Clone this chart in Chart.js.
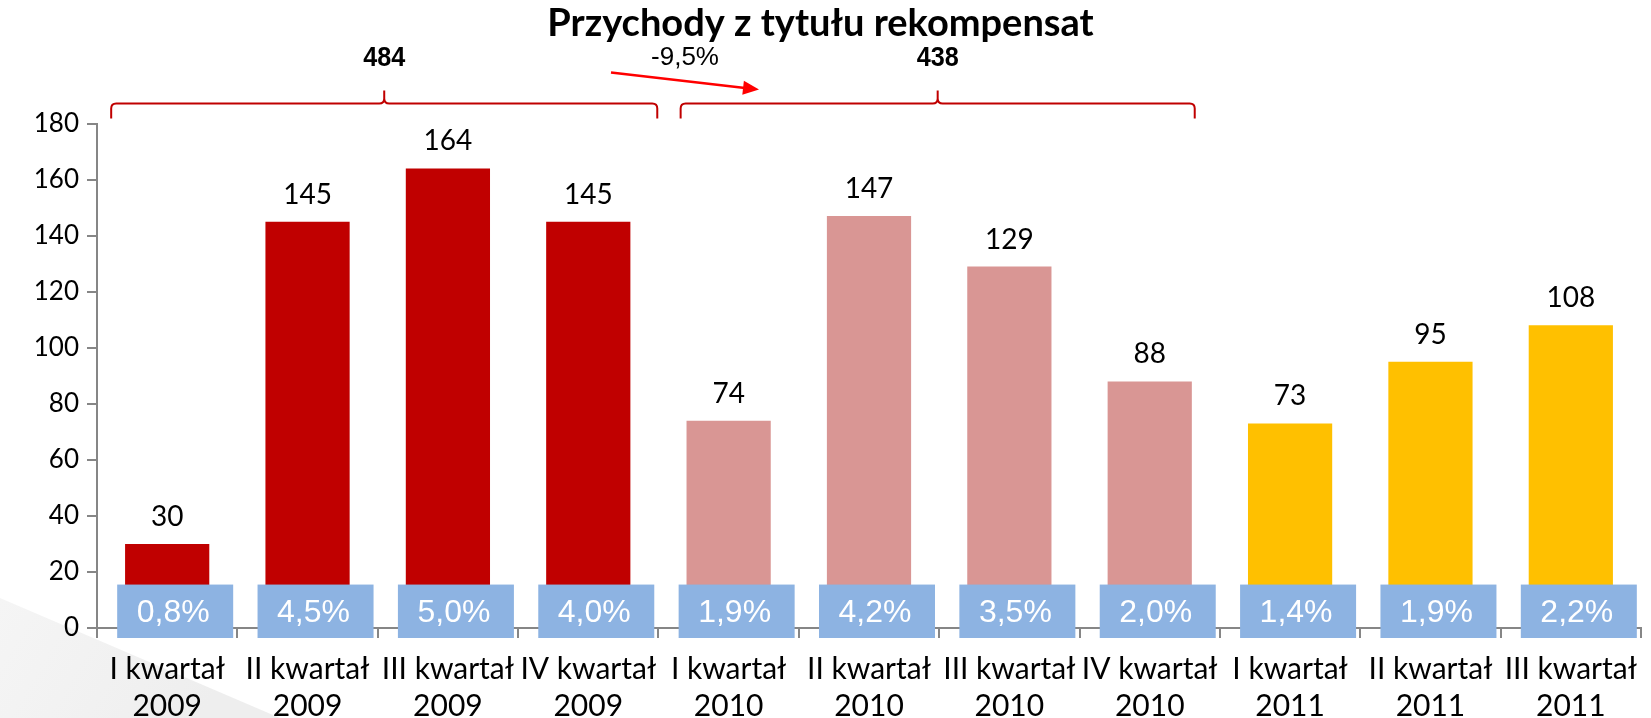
<!DOCTYPE html>
<html>
<head>
<meta charset="utf-8">
<script src="https://cdn.jsdelivr.net/npm/chart.js@4.4.1/dist/chart.umd.min.js"></script>
<style>
  html, body { margin: 0; padding: 0; background: #fff; }
  #wrap { width: 1651px; height: 718px; }
</style>
</head>
<body>
<div id="wrap"><canvas id="revenueChart" width="1651" height="718"></canvas></div>
<script>
// chart data
const quarters = ['I kwartał', 'II kwartał', 'III kwartał', 'IV kwartał',
  'I kwartał', 'II kwartał', 'III kwartał', 'IV kwartał',
  'I kwartał', 'II kwartał', 'III kwartał'];
const years = ['2009', '2009', '2009', '2009', '2010', '2010', '2010', '2010', '2011', '2011', '2011'];
const values = [30, 145, 164, 145, 74, 147, 129, 88, 73, 95, 108];
const shares = ['0,8%', '4,5%', '5,0%', '4,0%', '1,9%', '4,2%', '3,5%', '2,0%', '1,4%', '1,9%', '2,2%'];
const yTicks = [0, 20, 40, 60, 80, 100, 120, 140, 160, 180];

const yearColors = { '2009': '#C00000', '2010': '#D99694', '2011': '#FFC000' };

// groups summed under the brackets
const groups = [
  { from: 0, to: 3, padL: 56, padR: 69 },
  { from: 4, to: 7, padL: 48, padR: 45 }
];
groups.forEach(g => {
  g.total = values.slice(g.from, g.to + 1).reduce((a, b) => a + b, 0);
});
const change = (groups[1].total / groups[0].total - 1) * 100;
const changeLabel = change.toFixed(1).replace('.', ',') + '%';

const calibri = 'Lato, "Noto Sans", sans-serif';
const arial = '"Liberation Sans", Arial, sans-serif';

// light grey wedge in the lower left corner
const backdrop = {
  id: 'backdrop',
  beforeDraw(chart) {
    const c = chart.ctx;
    c.save();
    c.fillStyle = '#fff';
    c.fillRect(0, 0, chart.width, chart.height);
    const g = c.createLinearGradient(0, 600, 200, 718);
    g.addColorStop(0, '#f5f5f5');
    g.addColorStop(1, '#eeeeee');
    c.fillStyle = g;
    c.beginPath();
    c.moveTo(0, 598);
    c.lineTo(280, 718);
    c.lineTo(0, 718);
    c.closePath();
    c.fill();
    c.restore();
  }
};

// value labels above the bars and the blue share boxes
const barLabels = {
  id: 'barLabels',
  afterDatasetsDraw(chart) {
    const c = chart.ctx;
    const y = chart.scales.y;
    const zero = y.getPixelForValue(0);
    const boxTop = y.getPixelForValue(15.5);
    const bars = chart.getDatasetMeta(0).data;
    c.save();
    bars.forEach((bar, i) => {
      c.fillStyle = '#000';
      c.font = '28px ' + calibri;
      c.textAlign = 'center';
      c.textBaseline = 'middle';
      c.fillText(String(values[i]), bar.x, bar.y - 27);

      c.fillStyle = '#8DB3E2';
      c.fillRect(bar.x - 50, boxTop, 116, zero + 10 - boxTop);

      c.fillStyle = '#fff';
      c.font = '32px ' + arial;
      c.fillText(shares[i], bar.x + 6, (boxTop + zero + 10) / 2 + 2);
    });
    c.restore();
  }
};

// brackets, totals and the change arrow above the plot
const brackets = {
  id: 'brackets',
  afterDraw(chart) {
    const c = chart.ctx;
    const x = chart.scales.x;
    const top = chart.chartArea.top;
    const lineY = top - 20;
    c.save();
    c.strokeStyle = '#C00000';
    c.lineWidth = 2;
    groups.forEach(g => {
      const x0 = x.getPixelForValue(g.from) - g.padL;
      const x1 = x.getPixelForValue(g.to) + g.padR;
      const mid = (x0 + x1) / 2;
      const r = 5;
      c.beginPath();
      c.moveTo(x0, lineY + 15);
      c.lineTo(x0, lineY + r);
      c.quadraticCurveTo(x0, lineY, x0 + r, lineY);
      c.lineTo(mid - r, lineY);
      c.quadraticCurveTo(mid, lineY, mid, lineY - r);
      c.lineTo(mid, lineY - 13);
      c.moveTo(mid, lineY - r);
      c.quadraticCurveTo(mid, lineY, mid + r, lineY);
      c.lineTo(x1 - r, lineY);
      c.quadraticCurveTo(x1, lineY, x1, lineY + r);
      c.lineTo(x1, lineY + 15);
      c.stroke();

      c.fillStyle = '#000';
      c.font = 'bold 28px ' + arial;
      c.textAlign = 'center';
      c.textBaseline = 'middle';
      c.save();
      c.translate(mid, lineY - 45);
      c.scale(0.9, 1);
      c.fillText(String(g.total), 0, 0);
      c.restore();
    });

    // arrow between the two brackets
    const ax0 = 611, ay0 = top - 51, ax1 = 759, ay1 = top - 34;
    const ang = Math.atan2(ay1 - ay0, ax1 - ax0);
    c.strokeStyle = '#FF0000';
    c.fillStyle = '#FF0000';
    c.lineWidth = 2.5;
    c.beginPath();
    c.moveTo(ax0, ay0);
    c.lineTo(ax1 - 14 * Math.cos(ang), ay1 - 14 * Math.sin(ang));
    c.stroke();
    c.beginPath();
    c.moveTo(ax1, ay1);
    c.lineTo(ax1 - 16 * Math.cos(ang) + 7 * Math.sin(ang), ay1 - 16 * Math.sin(ang) - 7 * Math.cos(ang));
    c.lineTo(ax1 - 16 * Math.cos(ang) - 7 * Math.sin(ang), ay1 - 16 * Math.sin(ang) + 7 * Math.cos(ang));
    c.closePath();
    c.fill();

    c.fillStyle = '#000';
    c.font = '26px ' + arial;
    c.textAlign = 'center';
    c.textBaseline = 'middle';
    c.fillText(changeLabel, (ax0 + ax1) / 2, top - 66);
    c.restore();
  }
};

const ctx = document.getElementById('revenueChart').getContext('2d');
const revenueChart = new Chart(ctx, {
  type: 'bar',
  data: {
    labels: quarters.map((q, i) => [q, years[i]]),
    datasets: [{
      data: values,
      backgroundColor: years.map(y => yearColors[y]),
      borderWidth: 0,
      barPercentage: 0.6,
      categoryPercentage: 1.0
    }]
  },
  options: {
    responsive: false,
    devicePixelRatio: 1,
    animation: false,
    layout: { padding: { top: 0, right: 10, left: 0, bottom: 0 } },
    plugins: {
      legend: { display: false },
      tooltip: { enabled: false },
      title: {
        display: true,
        text: 'Przychody z tytułu rekompensat',
        color: '#000',
        font: { family: calibri, size: 38, weight: 'bold', lineHeight: 1.2 },
        padding: { top: 1, bottom: 77 }
      }
    },
    scales: {
      x: {
        grid: {
          display: true,
          drawOnChartArea: false,
          drawTicks: true,
          tickLength: 10,
          color: '#868686',
          lineWidth: 2
        },
        border: { color: '#868686', width: 2 },
        ticks: {
          color: '#000',
          font: { family: calibri, size: 30, lineHeight: 1.23 },
          padding: 13,
          maxRotation: 0,
          autoSkip: false
        },
        afterFit(scale) { scale.height = 90; }
      },
      y: {
        min: 0,
        max: 180,
        afterBuildTicks(scale) {
          scale.ticks = yTicks.map(v => ({ value: v }));
        },
        grid: {
          display: true,
          drawOnChartArea: false,
          drawTicks: true,
          tickLength: 10,
          color: '#868686',
          lineWidth: 2
        },
        border: { color: '#868686', width: 2 },
        ticks: {
          color: '#000',
          font: { family: calibri, size: 26 },
          padding: 8
        },
        afterFit(scale) { scale.width = 97; }
      }
    }
  },
  plugins: [backdrop, barLabels, brackets]
});
</script>
</body>
</html>
